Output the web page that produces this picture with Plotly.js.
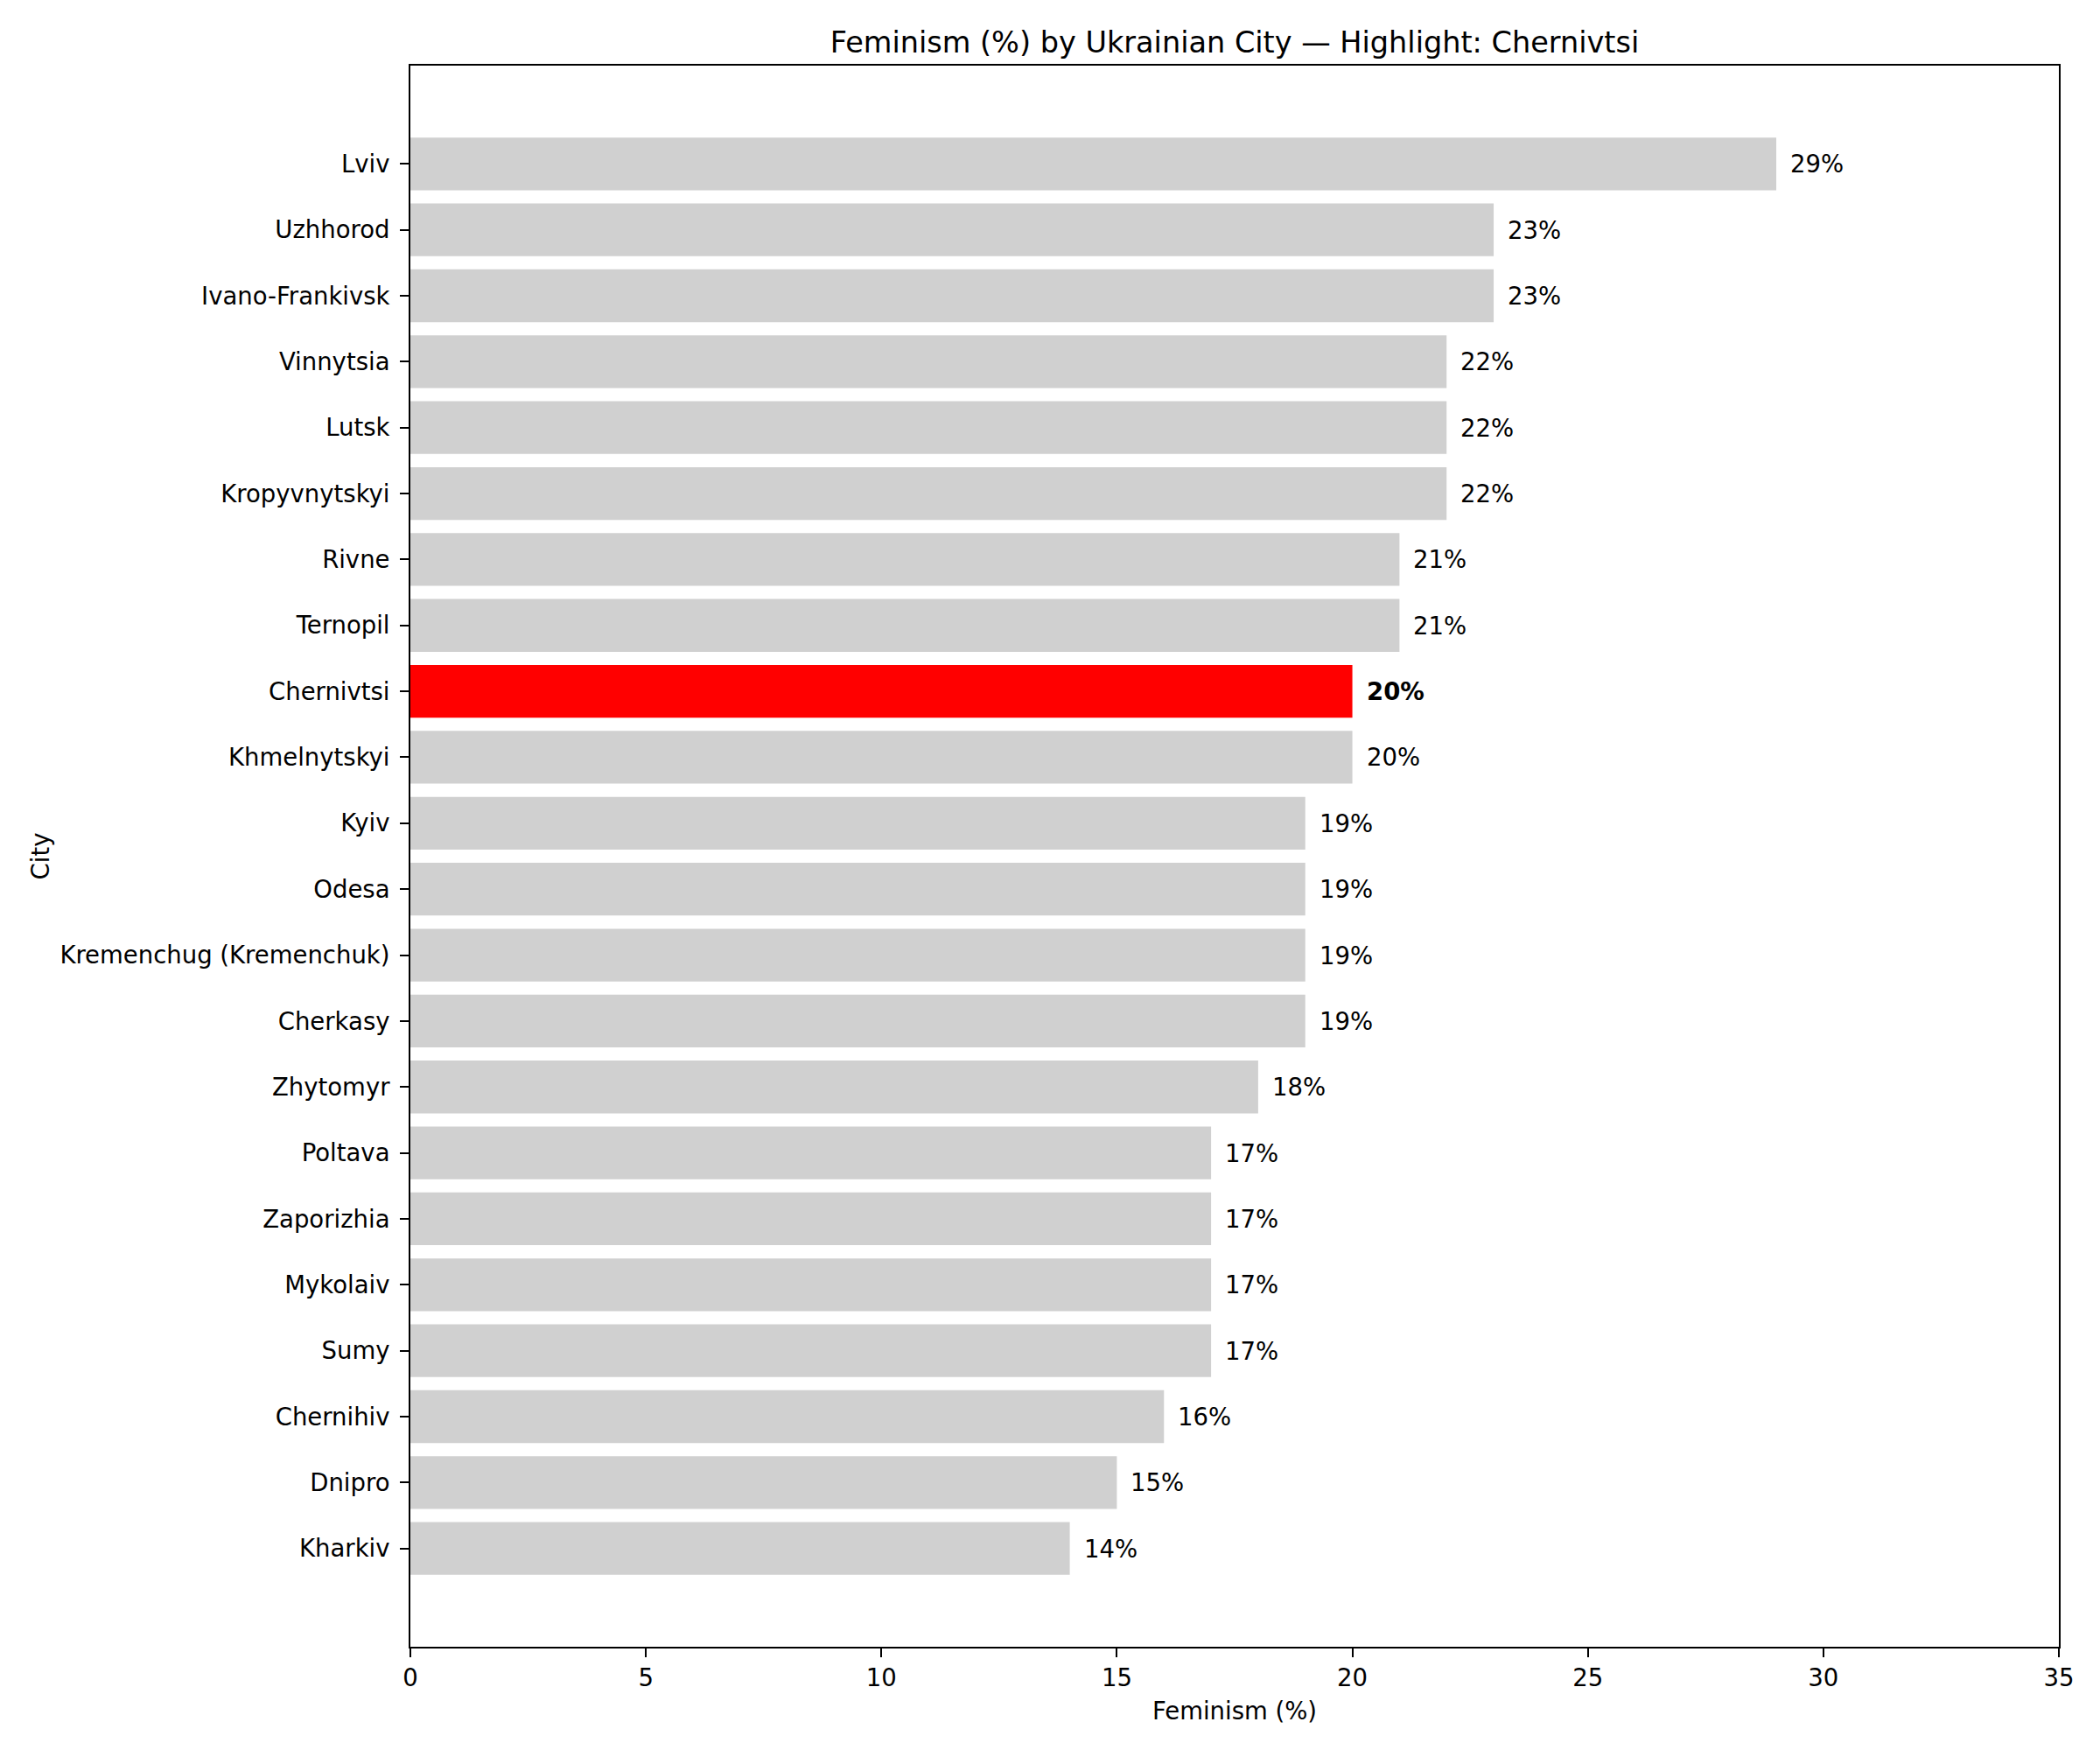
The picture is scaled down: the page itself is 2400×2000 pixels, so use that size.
<!DOCTYPE html>
<html>
<head>
<meta charset="utf-8">
<script src="https://cdn.plot.ly/plotly-3.0.1.min.js"></script>
<style>
  body { margin: 0; background: #fff; }
  #graph { width: 2400px; height: 2000px; }
</style>
</head>
<body>
<div id="graph"></div>
<script>
// cities top to bottom, as in the picture
var cities = ['Lviv', 'Uzhhorod', 'Ivano-Frankivsk', 'Vinnytsia', 'Lutsk', 'Kropyvnytskyi',
    'Rivne', 'Ternopil', 'Chernivtsi', 'Khmelnytskyi', 'Kyiv', 'Odesa',
    'Kremenchug (Kremenchuk)', 'Cherkasy', 'Zhytomyr', 'Poltava', 'Zaporizhia',
    'Mykolaiv', 'Sumy', 'Chernihiv', 'Dnipro', 'Kharkiv'];
var feminism = [29, 23, 23, 22, 22, 22, 21, 21, 20, 20, 19, 19, 19, 19, 18, 17, 17, 17, 17, 16, 15, 14];
var highlight = 'Chernivtsi';
var xTicks = [0, 5, 10, 15, 20, 25, 30, 35];

var font = 'DejaVu Sans, sans-serif';

var barColors = cities.map(function(c){ return c === highlight ? '#ff0000' : '#d0d0d0'; });

var bars = {
    type: 'bar',
    orientation: 'h',
    x: feminism,
    y: cities,
    marker: { color: barColors, line: { width: 0 } },
    hoverinfo: 'x+y'
};

var labels = cities.map(function(c, i){
    var hl = c === highlight;
    return {
        x: feminism[i],
        y: c,
        xref: 'x',
        yref: 'y',
        text: hl ? '<b>' + feminism[i] + '%</b>' : feminism[i] + '%',
        showarrow: false,
        xanchor: 'left',
        yanchor: 'middle',
        xshift: 14,
        font: { family: font, size: 27.5, color: '#000' }
    };
});

var n = cities.length;

var layout = {
    width: 2400,
    height: 2000,
    paper_bgcolor: '#fff',
    plot_bgcolor: '#fff',
    showlegend: false,
    bargap: 0.2,
    margin: { l: 469, r: 47, t: 75, b: 118 },
    font: { family: font, size: 27.5, color: '#000' },
    title: {
        text: 'Feminism (%) by Ukrainian City — Highlight: Chernivtsi',
        font: { family: font, size: 33.5, color: '#000' },
        x: 0.5 * (469 + 2353) / 2400,
        xanchor: 'center',
        y: 1 - 48 / 2000,
        yanchor: 'middle'
    },
    xaxis: {
        range: [0, 35],
        tickvals: xTicks,
        ticktext: xTicks.map(String),
        showgrid: false,
        zeroline: false,
        showline: true,
        mirror: true,
        linecolor: '#000',
        linewidth: 2,
        ticks: 'outside',
        ticklen: 10,
        tickwidth: 2,
        tickcolor: '#000',
        tickfont: { family: font, size: 27.5, color: '#000' },
        title: { text: 'Feminism (%)', font: { family: font, size: 27.5, color: '#000' }, standoff: 14 }
    },
    yaxis: {
        type: 'category',
        categoryorder: 'array',
        categoryarray: cities,
        range: [n - 1 + 1.49, -1.49],
        autorange: false,
        showgrid: false,
        zeroline: false,
        showline: true,
        mirror: true,
        linecolor: '#000',
        linewidth: 2,
        ticks: 'outside',
        ticklen: 10,
        tickwidth: 2,
        tickcolor: '#000',
        ticklabelstandoff: 6,
        tickfont: { family: font, size: 27.5, color: '#000' },
        title: { text: 'City', font: { family: font, size: 27.5, color: '#000' }, standoff: 4 }
    },
    annotations: labels
};

Plotly.newPlot('graph', [bars], layout, { staticPlot: true });
</script>
</body>
</html>
